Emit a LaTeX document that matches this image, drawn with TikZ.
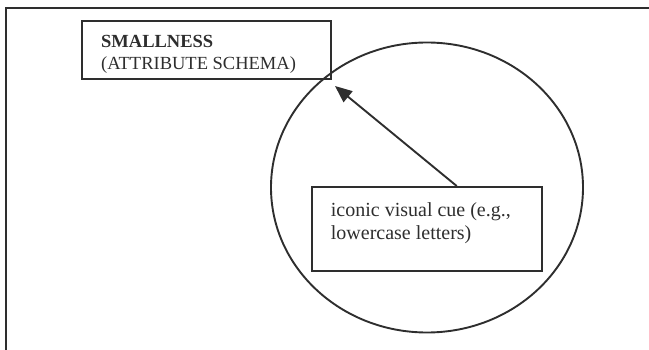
\documentclass[tikz,border=0pt]{standalone}
\usepackage{fontspec}
\setmainfont{Liberation Serif}
\usetikzlibrary{positioning,arrows.meta,calc}

\definecolor{inkgray}{HTML}{2E2E2E}

\begin{document}
\begin{tikzpicture}[x=1pt, y=-1pt,
  schemabox/.style={rectangle, draw=inkgray, line width=2pt, inner sep=0pt},
  boxtext/.style={anchor=base west, align=left, inner sep=0pt, text=inkgray},
  cuearrow/.style={draw=inkgray, line width=1.9pt, -{Triangle[length=17pt,width=14pt]}}
]
\useasboundingbox (0,0) rectangle (649,350);
% frame (only top and left edges show)
\draw[inkgray, line width=2pt] (6,350) -- (6,8) -- (649,8);
% region
\draw[inkgray, line width=1.9pt] (427,187.5) ellipse [x radius=156pt, y radius=145pt];
\node[schemabox, minimum width=249pt, minimum height=58pt] (attr) at (206.5,50) {};
\node[boxtext, font={\fontsize{18.5}{22}\selectfont}] (attrtext) at (101,69.3)
  {\textbf{SMALLNESS}\\(ATTRIBUTE SCHEMA)};
\node[schemabox, minimum width=230pt, minimum height=84pt] (cue) at (427,229) {};
\node[boxtext, font={\fontsize{20}{23.3}\selectfont}] (cuetext) at (330.7,240)
  {iconic visual cue (e.g.,\\lowercase letters)};
\coordinate (tip) at (335,86);
\draw[cuearrow] ([xshift=29.7pt]cue.north) -- (tip);
\end{tikzpicture}
\end{document}
